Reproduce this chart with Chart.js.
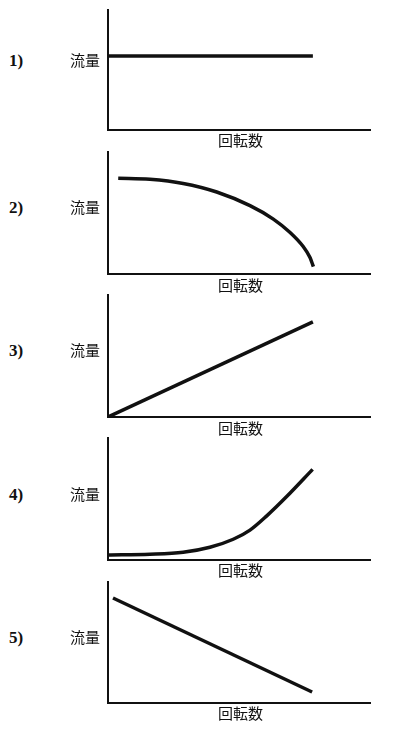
<!DOCTYPE html>
<html>
<head>
<meta charset="utf-8">
<script src="https://cdn.jsdelivr.net/npm/chart.js@4.4.1/dist/chart.umd.min.js"></script>
<style>
    html, body { margin: 0; padding: 0; background: #fff; }
    #page { position: relative; width: 395px; height: 734px; overflow: hidden; }
    .panel-box { position: absolute; left: 98px; width: 284px; }
    .lbl { position: absolute; color: #111; white-space: nowrap; line-height: 1; }
    .num { font-family: "Liberation Serif", serif; font-weight: bold; font-size: 17px; }
    .jp { font-family: "Noto Sans CJK JP", sans-serif; font-size: 15px; }
</style>
</head>
<body>
<div id="page"></div>
<script>
// 共通ラベル
const panelNames = ['1)', '2)', '3)', '4)', '5)'];
const yTitle = '流量';
const xTitle = '回転数';

// 各グラフの値 (回転数 0-10, 流量 0-10 で読み取り)
const speed1 = [0, 7.82];
const flow1 = [6.17, 6.17];

const speed2 = [0.39, 1.6, 2.87, 4.15, 5.42, 6.31, 6.95, 7.45, 7.71, 7.84];
const flow2 = [7.84, 7.76, 7.42, 6.72, 5.6, 4.5, 3.4, 2.25, 1.35, 0.6];

const speed3 = [0, 7.82];
const flow3 = [0, 7.79];

const speed4 = [0, 1.6, 2.87, 3.89, 4.78, 5.42, 6.06, 6.82, 7.81];
const flow4 = [0.41, 0.47, 0.63, 1.04, 1.7, 2.45, 3.62, 5.2, 7.43];

const speed5 = [0.19, 7.79];
const flow5 = [8.68, 0.91];

const allSpeeds = [speed1, speed2, speed3, speed4, speed5];
const allFlows = [flow1, flow2, flow3, flow4, flow5];

// 軸の上端・下端 (px) とラベルの位置
const axisTop = [10, 152, 295, 438, 582];
const axisBottom = [130, 274, 417, 560, 703];
const labelY = [60, 207, 350, 494, 637];
const xTitleY = [140, 285, 428, 570, 713];

const PAD = 8;
const page = document.getElementById('page');

function addLabel(text, cls, left, centerY) {
    const el = document.createElement('div');
    el.className = 'lbl ' + cls;
    el.textContent = text;
    el.style.left = left + 'px';
    el.style.top = (centerY - 8) + 'px';
    page.appendChild(el);
}

panelNames.forEach((name, i) => {
    const box = document.createElement('div');
    box.className = 'panel-box';
    box.style.top = (axisTop[i] - PAD) + 'px';
    box.style.height = (axisBottom[i] - axisTop[i] + PAD * 2) + 'px';
    const canvas = document.createElement('canvas');
    box.appendChild(canvas);
    page.appendChild(box);

    addLabel(name, 'num', 9, labelY[i]);
    addLabel(yTitle, 'jp', 70, labelY[i]);
    addLabel(xTitle, 'jp', 218, xTitleY[i]);

    const points = allSpeeds[i].map((s, k) => ({ x: s, y: allFlows[i][k] }));

    new Chart(canvas, {
        type: 'line',
        data: {
            datasets: [{
                data: points,
                borderColor: '#111',
                borderWidth: 3.5,
                pointRadius: 0,
                fill: false,
                cubicInterpolationMode: 'monotone',
                borderCapStyle: 'butt'
            }]
        },
        options: {
            responsive: true,
            maintainAspectRatio: false,
            animation: false,
            events: [],
            layout: { padding: { left: 10, right: 12, top: PAD, bottom: PAD } },
            plugins: { legend: { display: false }, tooltip: { enabled: false } },
            scales: {
                x: {
                    type: 'linear',
                    min: 0,
                    max: 10,
                    ticks: { display: false },
                    grid: { display: false, drawTicks: false },
                    border: { display: true, color: '#111', width: 2 }
                },
                y: {
                    min: 0,
                    max: 10,
                    ticks: { display: false },
                    grid: { display: false, drawTicks: false },
                    border: { display: true, color: '#111', width: 2 }
                }
            }
        }
    });
});
</script>
</body>
</html>
